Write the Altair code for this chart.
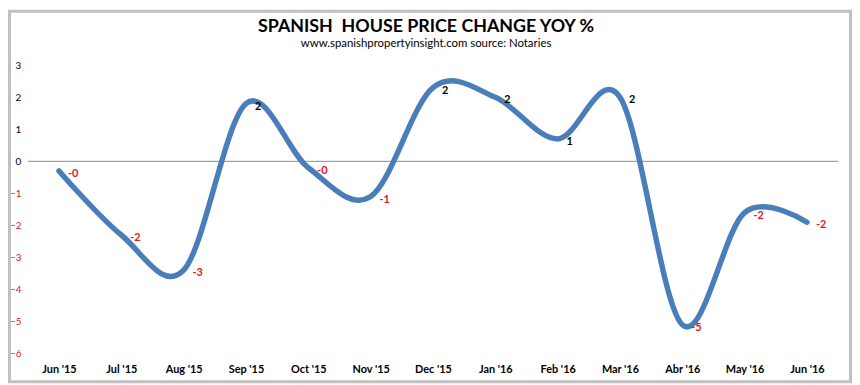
import math
import altair as alt
import pandas as pd

# ---- data ----
months = ["Jun '15", "Jul '15", "Aug '15", "Sep '15", "Oct '15", "Nov '15", "Dec '15",
          "Jan '16", "Feb '16", "Mar '16", "Abr '16", "May '16", "Jun '16"]
yoy = [-0.3, -2.3, -3.4, 1.8, -0.2, -1.1, 2.3, 2.0, 0.7, 2.0, -5.1, -1.6, -1.9]
y_ticks = [3, 2, 1, 0, -1, -2, -3, -4, -5, -6]
title_text = ["SPANISH\u00a0 HOUSE PRICE CHANGE YOY %"]
subtitle_text = ["www.spanishpropertyinsight.com source: Notaries"]


def fmt(v):
    r = math.floor(abs(v) + 0.5)
    return ("-" if v < 0 else "") + str(r)


df = pd.DataFrame({"month": months, "yoy": yoy, "label": [fmt(v) for v in yoy],
                   "zero": [0] * len(months)})

RED = "#e3151d"
BLUE = "#4a7ebb"
FONT = "Lato"

x_scale = alt.Scale(type="point", padding=0.5)
x_axis = alt.Axis(title=None, labelAngle=0, labelFont=FONT, labelFontWeight="bold",
                  labelFontSize=11, labelColor="black", ticks=False, domain=False,
                  labelPadding=10, labelOverlap=False, grid=False)
y_scale = alt.Scale(domain=[-6, 3], nice=False, zero=False)
y_axis = alt.Axis(title=None, values=y_ticks, grid=False, ticks=False, domain=False,
                  labelPadding=7, labelFont=FONT, labelFontSize=10, labelOverlap=False,
                  labelColor={"condition": {"test": "datum.value < 0", "value": RED},
                              "value": "black"})

x_enc = alt.X("month:N", sort=months, scale=x_scale, axis=x_axis)
y_enc = alt.Y("yoy:Q", scale=y_scale, axis=y_axis)

frame = alt.Chart(pd.DataFrame({"f": [0]})).mark_rect(
    fill="transparent", stroke="#c0c0c0", strokeWidth=3, clip=False
).encode(x=alt.value(-18.5), x2=alt.value(830.5), y=alt.value(-54.5), y2=alt.value(319.5))

title = alt.Chart(pd.DataFrame({"t": title_text})).mark_text(
    font=FONT, fontSize=18, fontWeight="bold", color="black",
    align="center", baseline="alphabetic", clip=False
).encode(x=alt.value(402), y=alt.value(-34), text="t:N")

subtitle = alt.Chart(pd.DataFrame({"t": subtitle_text})).mark_text(
    font=FONT, fontSize=11.5, color="black",
    align="center", baseline="alphabetic", clip=False
).encode(x=alt.value(402), y=alt.value(-18), text="t:N")

zero = alt.Chart(df).transform_filter("datum.month == \"Jun '15\"").mark_rule(
    color="#8c8c8c", strokeWidth=1
).encode(y=alt.Y("zero:Q", scale=y_scale, axis=y_axis))

line = alt.Chart(df).mark_line(
    color=BLUE, strokeWidth=5.5, interpolate="cardinal", strokeCap="round", strokeJoin="round"
).encode(x=x_enc, y=y_enc)

labels = alt.Chart(df).mark_text(
    align="left", baseline="middle", dx=9, dy=3, font=FONT, fontWeight="bold", fontSize=11
).encode(
    x=x_enc,
    y=y_enc,
    text="label:N",
    color=alt.condition("datum.yoy < 0", alt.value(RED), alt.value("black")),
)

chart = alt.layer(frame, title, subtitle, zero, line, labels).properties(
    width=818,
    height=291,
    autosize=alt.AutoSizeParams(type="none"),
    padding={"left": 20, "top": 56, "right": 14, "bottom": 30},
    background="white",
).configure_view(stroke=None)

chart.save("out.html", embed_options={"renderer": "svg", "actions": False})
